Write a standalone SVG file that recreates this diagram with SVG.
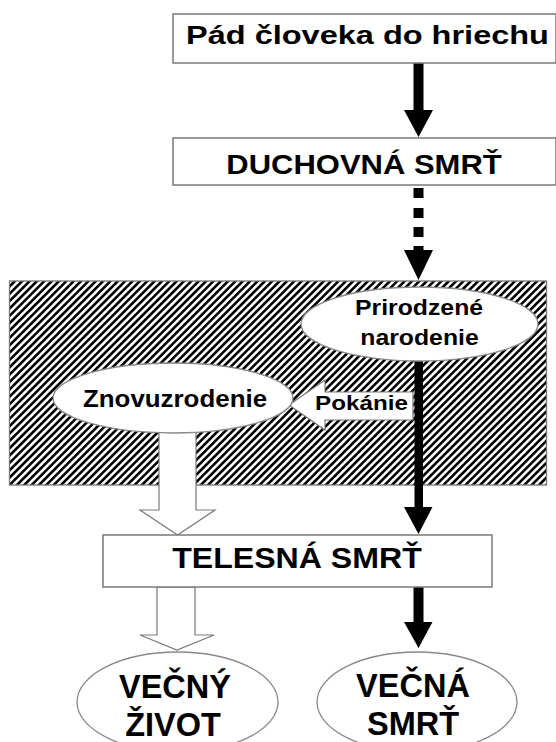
<svg xmlns="http://www.w3.org/2000/svg" width="556" height="742" viewBox="0 0 556 742">
<style>
.box{fill:#fff;stroke:#7a7a7a;stroke-width:1.5}
.ell{fill:#fff;stroke:#8a8a8a;stroke-width:1.3}
.t{font-family:"Liberation Sans",Arial,sans-serif;font-weight:bold;fill:#000;text-anchor:middle}
.blk{fill:#000}
.wa{fill:#fff;stroke:#7a7a7a;stroke-width:1.2}
</style>
<defs>
<pattern id="hatch" patternUnits="userSpaceOnUse" width="5.2" height="10" patternTransform="rotate(45)">
<rect x="0" y="0" width="2.6" height="10" fill="#000"/>
</pattern>
</defs>
<rect width="556" height="742" fill="#fff"/>

<g id="zone">
<rect x="9.5" y="281" width="537" height="204" fill="#fff"/>
<rect x="9.5" y="281" width="537" height="204" fill="url(#hatch)" stroke="#777" stroke-width="1.3"/>
</g>

<g id="connectors">
<polygon class="blk" points="413.5,63 423.5,63 423.5,110 433,110 418.5,137 404,110 413.5,110"/>
<rect class="blk" x="413.5" y="188" width="10" height="10"/>
<rect class="blk" x="413.5" y="208" width="10" height="10"/>
<rect class="blk" x="413.5" y="227" width="10" height="10"/>
<polygon class="blk" points="413.5,246 423.5,246 423.5,250 433,250 418.5,280 404,250 413.5,250"/>
<polygon class="blk" points="414.5,355 423,355 423,507 432.5,507 418.5,534 404,507 414.5,507"/>
<polygon class="wa" points="413,392 325,392 325,380 289,405 325,430 325,420 413,420"/>
<polygon class="wa" points="159,425 196,425 196,510 215,510 177.5,535 140,510 159,510"/>
<polygon class="wa" points="157,587 195,587 195,635 214,635 177,650 140,635 157,635"/>
<polygon class="blk" points="413.5,587 423.5,587 423.5,622 432.5,622 418.5,648 404,622 413.5,622"/>
<text class="t" transform="translate(361.5,410) scale(1,0.87)" font-size="24.2">Pokánie</text>
</g>

<g id="pad">
<rect class="box" x="173" y="14" width="383" height="49"/>
<text class="t" transform="translate(367.5,44) scale(1,0.8)" font-size="32.5">Pád človeka do hriechu</text>
</g>

<g id="duchovna">
<rect class="box" x="173" y="138" width="383" height="47"/>
<text class="t" transform="translate(364,174) scale(1,0.9)" font-size="31">DUCHOVNÁ SMRŤ</text>
</g>

<g id="prirodzene">
<ellipse class="ell" cx="419.5" cy="324" rx="118.5" ry="37"/>
<text class="t" transform="translate(419,315) scale(1,0.88)" font-size="24.8">Prirodzené</text>
<text class="t" transform="translate(419.5,345) scale(1,0.88)" font-size="24.8">narodenie</text>
</g>

<g id="znovuzrodenie">
<ellipse class="ell" cx="173" cy="398" rx="120" ry="35"/>
<text class="t" transform="translate(175,407) scale(1,0.92)" font-size="25.9">Znovuzrodenie</text>
</g>

<g id="telesna">
<rect class="box" x="103" y="535" width="389" height="52"/>
<text class="t" transform="translate(297,568) scale(1,0.91)" font-size="32.1">TELESNÁ SMRŤ</text>
</g>

<g id="vecny-zivot">
<ellipse class="ell" cx="177.5" cy="702" rx="100.5" ry="50"/>
<text class="t" x="175" y="698" font-size="32.5">VEČNÝ</text>
<text class="t" x="173" y="736" font-size="32.5">ŽIVOT</text>
</g>

<g id="vecna-smrt">
<ellipse class="ell" cx="417" cy="702" rx="100" ry="50"/>
<text class="t" x="413" y="697" font-size="32.5">VEČNÁ</text>
<text class="t" x="413" y="735" font-size="32.5">SMRŤ</text>
</g>
</svg>
